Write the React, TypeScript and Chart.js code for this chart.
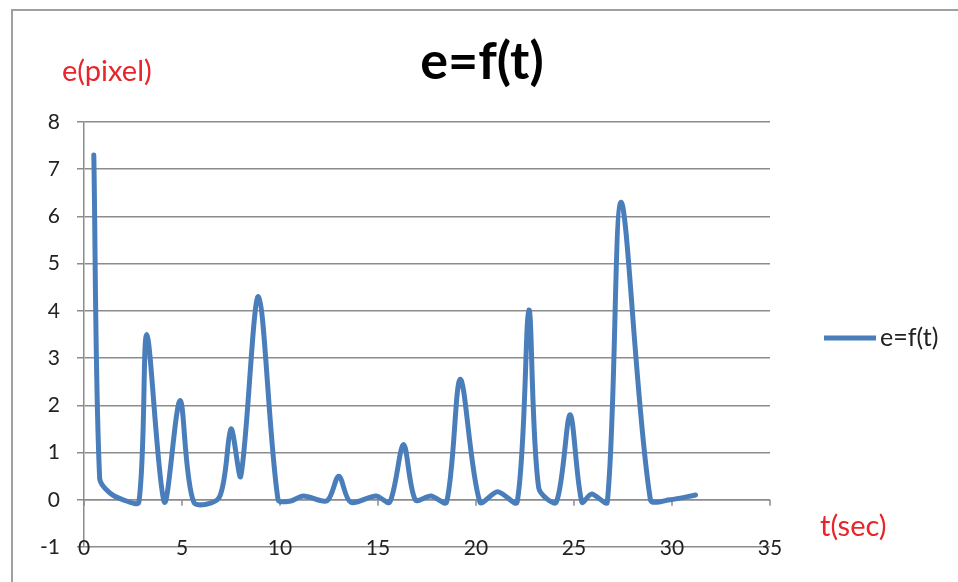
import React, { useEffect, useRef } from "react";
import { Chart, registerables } from "chart.js";

Chart.register(...registerables);

const CHART_TITLE = "e=f(t)";
const SERIES_LABEL = "e=f(t)";
const Y_AXIS_LABEL = "e(pixel)";
const X_AXIS_LABEL = "t(sec)";

const timeValues = [
  0.5, 0.8, 1.3, 2.0, 2.8, 3.2, 4.1, 4.9, 5.6, 6.9, 7.5, 8.0, 8.9, 9.9, 10.5,
  11.2, 12.4, 13.0, 13.6, 14.9, 15.6, 16.3, 16.9, 17.7, 18.5, 19.2, 20.2, 21.1,
  22.1, 22.7, 23.2, 24.1, 24.8, 25.4, 25.9, 26.7, 27.4, 28.9, 29.9, 31.2,
];
const errorValues = [
  7.3, 0.45, 0.15, 0.0, -0.05, 3.5, -0.05, 2.1, -0.05, 0.05, 1.5, 0.5, 4.3, 0.0,
  -0.03, 0.08, -0.02, 0.5, -0.05, 0.08, -0.05, 1.17, 0.0, 0.08, -0.05, 2.55,
  -0.05, 0.17, -0.05, 4.02, 0.25, -0.05, 1.8, -0.05, 0.12, -0.05, 6.3, 0.0, 0.0,
  0.1,
];

const X_MIN = 0;
const X_MAX = 35;
const X_STEP = 5;
const Y_MIN = -1;
const Y_MAX = 8;
const Y_STEP = 1;

const LINE_COLOR = "#4A7EBB";
const GRID_COLOR = "#8c8c8c";
const TEXT_COLOR = "#222222";
const FONT = "Lato, 'Open Sans', sans-serif";

export default function App() {
  const ref = useRef<HTMLCanvasElement | null>(null);

  useEffect(() => {
    if (!ref.current) return;
    const points = timeValues.map((t, i) => ({ x: t, y: errorValues[i] }));

    const decor = {
      id: "decor",
      beforeDraw(chart: any) {
        const ctx = chart.ctx;
        ctx.save();
        ctx.fillStyle = "#ffffff";
        ctx.fillRect(0, 0, chart.width, chart.height);
        ctx.strokeStyle = "#a0a0a0";
        ctx.lineWidth = 2;
        ctx.strokeRect(12, 10, chart.width + 20, chart.height + 20);
        ctx.restore();
      },
      beforeDatasetsDraw(chart: any) {
        const ctx = chart.ctx;
        const xs = chart.scales.x;
        const ys = chart.scales.y;
        const y0 = ys.getPixelForValue(0);
        ctx.save();
        ctx.strokeStyle = GRID_COLOR;
        ctx.lineWidth = 1.5;
        ctx.beginPath();
        ctx.moveTo(xs.left, y0);
        ctx.lineTo(xs.right, y0);
        for (const tk of xs.ticks) {
          const px = xs.getPixelForValue(tk.value);
          ctx.moveTo(px, y0);
          ctx.lineTo(px, y0 + 6);
        }
        ctx.stroke();
        ctx.restore();
      },
      afterDraw(chart: any) {
        const ctx = chart.ctx;
        const area = chart.chartArea;
        const xs = chart.scales.x;
        const ys = chart.scales.y;
        ctx.save();
        // x tick labels, sitting on the lowest gridline
        ctx.fillStyle = TEXT_COLOR;
        ctx.font = `21px ${FONT}`;
        ctx.textAlign = "center";
        ctx.textBaseline = "middle";
        const yLabel = ys.getPixelForValue(Y_MIN) + 1;
        for (const tk of xs.ticks) {
          ctx.fillText(String(tk.value), xs.getPixelForValue(tk.value), yLabel);
        }
        // title
        ctx.fillStyle = "#000000";
        ctx.font = `bold 52px ${FONT}`;
        ctx.fillText(CHART_TITLE, 482, 62);
        // axis labels
        ctx.fillStyle = "#e8252b";
        ctx.font = `29px ${FONT}`;
        ctx.textAlign = "left";
        ctx.fillText(Y_AXIS_LABEL, 62, 72);
        ctx.fillText(X_AXIS_LABEL, area.right + 50, 527);
        // legend
        const ly = 338;
        ctx.strokeStyle = LINE_COLOR;
        ctx.lineWidth = 5;
        ctx.beginPath();
        ctx.moveTo(area.right + 54, ly);
        ctx.lineTo(area.right + 106, ly);
        ctx.stroke();
        ctx.fillStyle = TEXT_COLOR;
        ctx.font = `25px ${FONT}`;
        ctx.fillText(SERIES_LABEL, area.right + 110, ly);
        ctx.restore();
      },
    };

    const chart = new Chart(ref.current, {
      type: "scatter",
      data: {
        datasets: [
          {
            label: SERIES_LABEL,
            data: points,
            showLine: true,
            borderColor: LINE_COLOR,
            backgroundColor: LINE_COLOR,
            borderWidth: 5,
            pointRadius: 0,
            tension: 0.3,
            borderCapStyle: "round",
            borderJoinStyle: "round",
          } as any,
        ],
      },
      options: {
        animation: false,
        responsive: false,
        maintainAspectRatio: false,
        devicePixelRatio: 1,
        layout: { padding: { left: 0, right: 188, top: 122, bottom: 0 } },
        plugins: {
          legend: { display: false },
          title: { display: false },
          tooltip: { enabled: false },
        },
        scales: {
          x: {
            type: "linear",
            min: X_MIN,
            max: X_MAX,
            grid: { display: false, drawTicks: false },
            border: { display: false },
            ticks: {
              stepSize: X_STEP,
              display: false,
              maxRotation: 0,
            },
            afterFit(scale: any) {
              scale.height = 35;
            },
          },
          y: {
            type: "linear",
            min: Y_MIN,
            max: Y_MAX,
            grid: {
              color: GRID_COLOR,
              lineWidth: 1.5,
              tickLength: 7,
              drawTicks: true,
            },
            border: { display: true, color: GRID_COLOR, width: 1.5 },
            ticks: {
              stepSize: Y_STEP,
              padding: 17,
              color: TEXT_COLOR,
              font: { family: FONT, size: 21 },
            },
            afterFit(scale: any) {
              scale.width = 84;
            },
          },
        },
      },
      plugins: [decor],
    });
    return () => chart.destroy();
  }, []);

  return (
    <div
      style={{
        position: "fixed",
        left: 0,
        top: 0,
        width: 958,
        height: 582,
        background: "#fff",
      }}
    >
      <canvas ref={ref} width={958} height={582} style={{ display: "block" }} />
    </div>
  );
}
